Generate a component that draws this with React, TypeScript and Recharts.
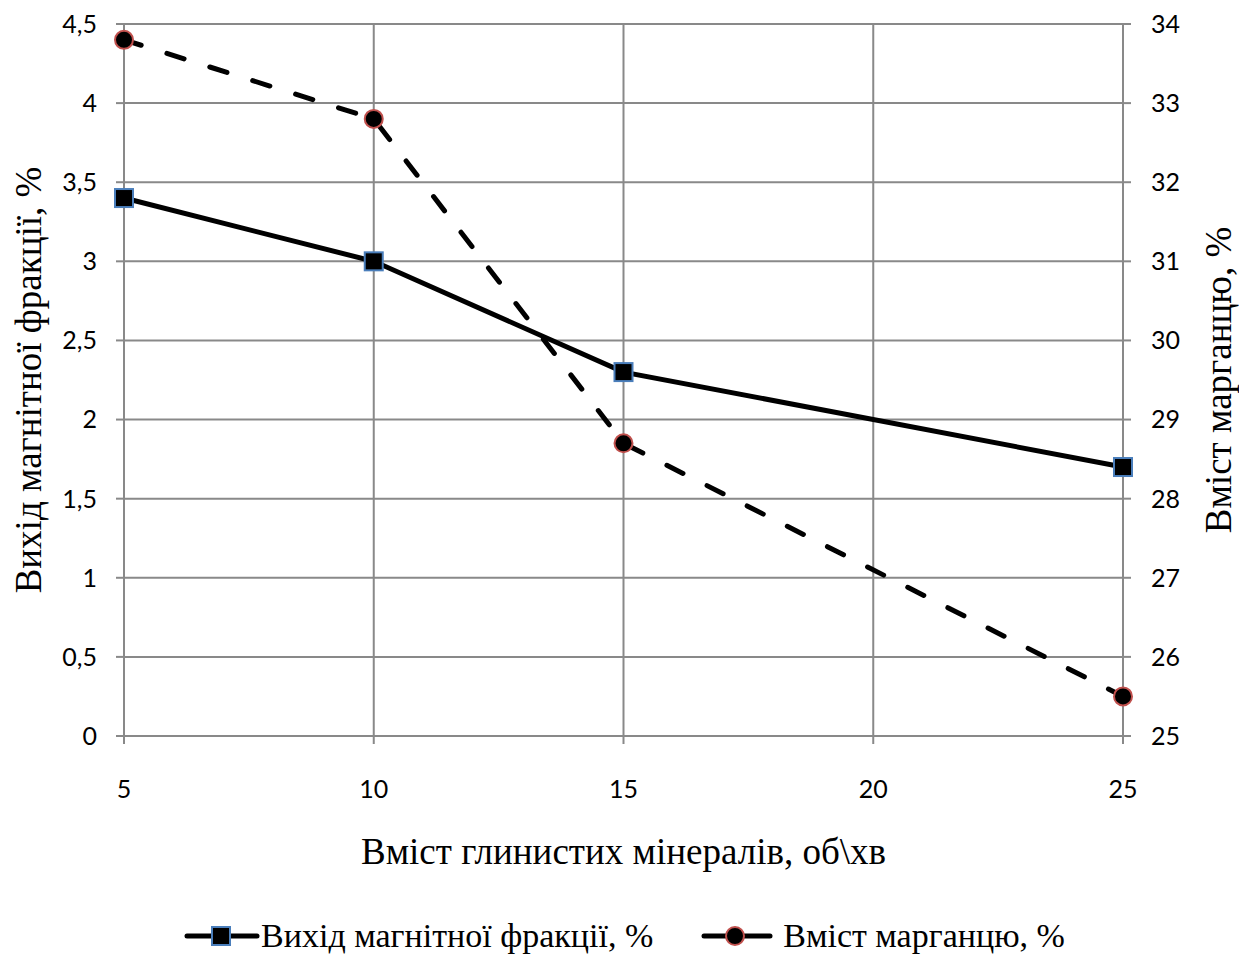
import React from 'react';
import { ComposedChart, Line, XAxis, YAxis, CartesianGrid, Legend } from 'recharts';

const clayContent = [5, 10, 15, 25];
const magneticYield = [3.4, 3.0, 2.3, 1.7];
const manganeseContent = [33.8, 32.8, 28.7, 25.5];
const xTicks = [5, 10, 15, 20, 25];
const leftTicks = [0, 0.5, 1, 1.5, 2, 2.5, 3, 3.5, 4, 4.5];
const rightTicks = [25, 26, 27, 28, 29, 30, 31, 32, 33, 34];

const seriesYieldName = 'Вихід магнітної фракції, %';
const seriesMnName = 'Вміст марганцю, %';
const xTitle = 'Вміст глинистих мінералів, об\\хв';
const leftTitle = 'Вихід магнітної фракції, %';
const rightTitle = 'Вміст марганцю, %';

const data = clayContent.map((x, i) => ({ x, yieldV: magneticYield[i], mn: manganeseContent[i] }));

const AXIS = '#898989';
const TICK_FONT = { fontFamily: 'Lato, sans-serif', fontSize: 25, fill: '#000' };
const TITLE_FONT = { fontFamily: '"Liberation Serif", serif', fontSize: 37, fill: '#000' };

const SquareDot = (props: any) => {
  const { cx, cy } = props;
  if (cx == null || cy == null) return null;
  return <rect x={cx - 9} y={cy - 9} width={18} height={18} fill="#000" stroke="#4a7ebb" strokeWidth={2} />;
};
const CircleDot = (props: any) => {
  const { cx, cy } = props;
  if (cx == null || cy == null) return null;
  return <circle cx={cx} cy={cy} r={9} fill="#000" stroke="#c0504d" strokeWidth={2} />;
};

const fmt = (v: number) => String(v).replace('.', ',');

const LegendContent = () => (
  <div style={{ display: 'flex', justifyContent: 'center', alignItems: 'center', fontFamily: '"Liberation Serif", serif', fontSize: 34, color: '#000', lineHeight: '40px', paddingLeft: 10 }}>
    <div style={{ display: 'flex', alignItems: 'center' }}>
      <svg width={76} height={30}>
        <line x1={3} y1={15} x2={73} y2={15} stroke="#000" strokeWidth={5} strokeLinecap="round" />
        <rect x={28} y={6} width={18} height={18} fill="#000" stroke="#4a7ebb" strokeWidth={2} />
      </svg>
      <span style={{ marginLeft: 1 }}>{seriesYieldName}</span>
    </div>
    <div style={{ display: 'flex', alignItems: 'center', marginLeft: 48 }}>
      <svg width={72} height={30}>
        <line x1={3} y1={15} x2={69} y2={15} stroke="#000" strokeWidth={5} strokeLinecap="round" />
        <circle cx={34} cy={15} r={9} fill="#000" stroke="#c0504d" strokeWidth={2} />
      </svg>
      <span style={{ marginLeft: 10 }}>{seriesMnName}</span>
    </div>
  </div>
);

export default function App() {
  return (
    <div style={{ position: 'absolute', left: 0, top: 0, width: 1239, height: 958, background: '#fff' }}>
      <ComposedChart width={1239} height={958} data={data} margin={{ top: 24, right: 0, bottom: 0, left: 0 }}>
        <CartesianGrid yAxisId="left" stroke={AXIS} strokeWidth={2} vertical horizontal />
        <XAxis
          dataKey="x"
          type="number"
          domain={[5, 25]}
          ticks={xTicks}
          height={222}
          stroke={AXIS}
          strokeWidth={2}
          tickSize={8}
          tickMargin={36}
          tick={TICK_FONT}
          tickLine={{ stroke: AXIS, strokeWidth: 2 }}
          label={{ value: xTitle, position: 'insideTop', offset: 102, style: TITLE_FONT }}
        />
        <YAxis
          yAxisId="left"
          domain={[0, 4.5]}
          ticks={leftTicks}
          width={124}
          stroke={AXIS}
          strokeWidth={2}
          tickSize={8}
          tickMargin={19}
          tick={TICK_FONT}
          tickFormatter={fmt}
          interval={0}
          label={{ value: leftTitle, angle: -90, position: 'insideLeft', offset: 28, textAnchor: 'middle', style: { ...TITLE_FONT, textAnchor: 'middle' } }}
        />
        <YAxis
          yAxisId="right"
          orientation="right"
          domain={[25, 34]}
          ticks={rightTicks}
          width={116}
          stroke={AXIS}
          strokeWidth={2}
          tickSize={8}
          tickMargin={20}
          tick={TICK_FONT}
          interval={0}
          label={{ value: rightTitle, angle: -90, position: 'insideRight', offset: 21, textAnchor: 'middle', style: { ...TITLE_FONT, textAnchor: 'middle' } }}
        />
        <Line
          yAxisId="left"
          dataKey="yieldV"
          name={seriesYieldName}
          stroke="#000"
          strokeWidth={5}
          dot={<SquareDot />}
          activeDot={false}
          isAnimationActive={false}
        />
        <Line
          yAxisId="right"
          dataKey="mn"
          name={seriesMnName}
          stroke="#000"
          strokeWidth={5}
          strokeDasharray="18 27"
          strokeLinecap="round"
          dot={<CircleDot />}
          activeDot={false}
          isAnimationActive={false}
        />
        <Legend
          layout="vertical"
          align="center"
          verticalAlign="middle"
          content={<LegendContent />}
          wrapperStyle={{ top: 916, left: 0, width: 1239 }}
        />
      </ComposedChart>
    </div>
  );
}
